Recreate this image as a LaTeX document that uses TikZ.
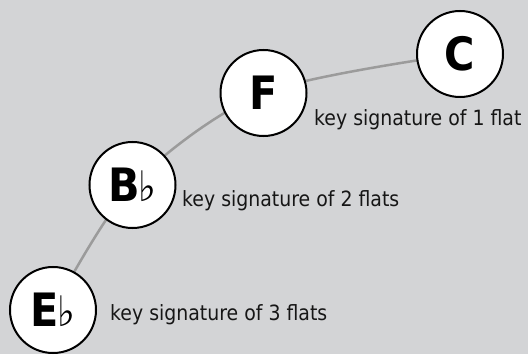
\documentclass[tikz,border=0pt]{standalone}
\usepackage{fontspec}
\setmainfont[FakeStretch=0.9]{DejaVu Sans}
\usetikzlibrary{backgrounds}
\definecolor{bggray}{RGB}{211,212,214}
\definecolor{arcgray}{RGB}{155,155,155}
\definecolor{ink}{RGB}{22,22,22}
\newcommand{\flatsign}{{\fontsize{42}{44}\selectfont\mdseries\hspace{-1pt}♭}}
\begin{document}
\begin{tikzpicture}[x=1pt,y=1pt,
  keynode/.style={circle, draw=black, line width=2pt, fill=white, minimum size=86pt, inner sep=0pt,
    font=\fontsize{46}{50}\selectfont\bfseries, text=black},
  caption/.style={anchor=base west, inner sep=0pt, font=\fontsize{21}{25}\selectfont, text=ink},
  link/.style={draw=arcgray, line width=2.5pt}]
\useasboundingbox (0,0) rectangle (528,354);
\node[keynode] (C) at (460,300) {C};
\node[keynode] (F) at (263.5,261) {F};
\node[keynode] (B) at (132.5,169) {B\flatsign};
\node[keynode] (E) at (53,44) {E\flatsign};
\node[caption] (l1) at (314,228) {key signature of 1 flat};
\node[caption] (l2) at (182,147) {key signature of 2 flats};
\node[caption] (l3) at (110,34) {key signature of 3 flats};
\begin{scope}[on background layer]
\fill[bggray] (0,0) rectangle (528,354);
\draw[link] plot[smooth] coordinates {(E.center) (B.center) (F.center) (C.center)};
\end{scope}
\end{tikzpicture}
\end{document}
